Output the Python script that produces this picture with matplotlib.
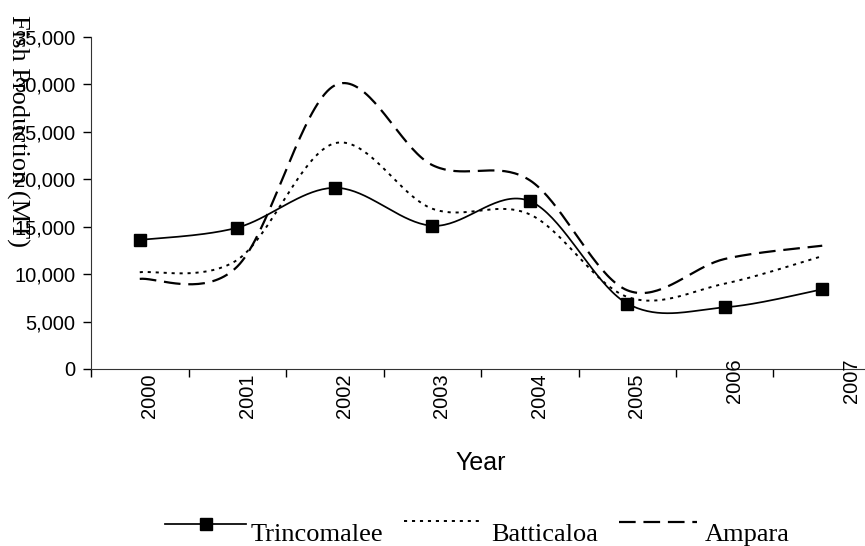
import numpy as np
import matplotlib
matplotlib.use("Agg")
import matplotlib.pyplot as plt
from matplotlib.lines import Line2D
from matplotlib.ticker import FuncFormatter

years = ['2000', '2001', '2002', '2003', '2004', '2005', '2006', '2007']
series_names = ['Trincomalee', 'Batticaloa', 'Ampara']
trincomalee = [13600, 14900, 19100, 15100, 17700, 6900, 6500, 8400]
batticaloa = [10200, 11500, 23800, 16900, 16300, 7600, 9000, 11900]
ampara = [9500, 10800, 29900, 21500, 19900, 8300, 11600, 13000]
yticks = [0, 5000, 10000, 15000, 20000, 25000, 30000, 35000]

SANS = ['Liberation Sans', 'DejaVu Sans']
SERIF = ['Liberation Serif', 'DejaVu Serif']


def smooth(xs, ys, n=40):
    """Excel-style smoothed line (Catmull-Rom Bezier) through the data points."""
    P = np.column_stack([xs, ys]).astype(float)
    Pe = np.vstack([P[0], P, P[-1]])
    out = []
    for i in range(len(P) - 1):
        p0, p1 = Pe[i + 1], Pe[i + 2]
        c1 = p0 + (Pe[i + 2] - Pe[i]) / 6.0
        c2 = p1 - (Pe[i + 3] - Pe[i + 1]) / 6.0
        t = np.linspace(0, 1, n)[:, None]
        b = ((1 - t) ** 3) * p0 + 3 * ((1 - t) ** 2) * t * c1 + 3 * (1 - t) * t ** 2 * c2 + t ** 3 * p1
        out.append(b if i == 0 else b[1:])
    B = np.vstack(out)
    return B[:, 0], B[:, 1]


W, H = 865, 546
fig = plt.figure(figsize=(W / 100, H / 100), dpi=100)
ax = fig.add_axes([91 / W, (H - 369) / H, 780 / W, 332 / H])

x = np.arange(len(years))
styles = [
    dict(color='black', lw=1.25, linestyle='-'),
    dict(color='black', lw=1.4, linestyle=(0, (1.6, 2.5))),
    dict(color='black', lw=1.6, linestyle=(0, (7.5, 3.5))),
]
for vals, st in zip([trincomalee, batticaloa, ampara], styles):
    sx, sy = smooth(x, vals)
    ax.plot(sx, sy, **st, clip_on=False)
ax.plot(x, trincomalee, linestyle='none', marker='s', markersize=8.5,
        color='black', clip_on=False, zorder=5)

ax.set_xlim(-0.5, 7.5)
ax.set_ylim(0, 35000)
ax.set_yticks(yticks)
ax.yaxis.set_major_formatter(FuncFormatter(lambda v, p: f'{int(v):,}'))
for lab in ax.get_yticklabels():
    lab.set_fontfamily(SANS)
    lab.set_fontsize(14.5)
ax.tick_params(axis='y', direction='out', length=6, width=1, pad=5.2, colors='black')

# category boundaries as ticks, labels between ticks
ax.set_xticks(np.arange(-0.5, 7.5, 1.0))
ax.set_xticklabels([])
ax.tick_params(axis='x', direction='out', length=6, width=1)

# year labels (last two are displaced as in the original)
label_dx = [0, 0, 0, 0, 0, 0, 0.005, 0.195]
label_dy = [0, 0, 0, 0, 0, 0, 15, 15]
for i, yr in enumerate(years):
    ax.annotate(yr, xy=(i + 0.1 + label_dx[i], 0), xycoords=('data', 'axes fraction'),
                xytext=(0, -3 + label_dy[i] * 0.72), textcoords='offset points',
                rotation=90, ha='center', va='top', fontsize=14.5, family=SANS,
                annotation_clip=False)

for s in ['top', 'right']:
    ax.spines[s].set_visible(False)
ax.spines['left'].set_color('#333333')
ax.spines['bottom'].set_color('#333333')

fig.text(18 / W, 1 - 131 / H, 'Fish Production (MT)', rotation=270,
         ha='center', va='center', fontsize=19, family=SERIF)
fig.text(481 / W, 1 - 463 / H, 'Year', ha='center', va='center',
         fontsize=18, family=SANS)

# legend drawn beneath the chart
handles = [
    (165, 246, 524, styles[0], True, 251),
    (404, 479, 521, styles[1], False, 491),
    (619, 697, 522, styles[2], False, 705),
]
for name, (x0, x1, yy, st, mk, tx) in zip(series_names, handles):
    fig.add_artist(Line2D([x0 / W, x1 / W], [1 - yy / H, 1 - yy / H],
                          transform=fig.transFigure, **st))
    if mk:
        fig.add_artist(Line2D([(x0 + x1) / 2 / W], [1 - yy / H], transform=fig.transFigure,
                              marker='s', markersize=8.5, color='black', linestyle='none'))
    fig.text(tx / W, 1 - 541 / H, name, ha='left', va='baseline', fontsize=19, family=SERIF)

fig.savefig('out.png', dpi=100)
